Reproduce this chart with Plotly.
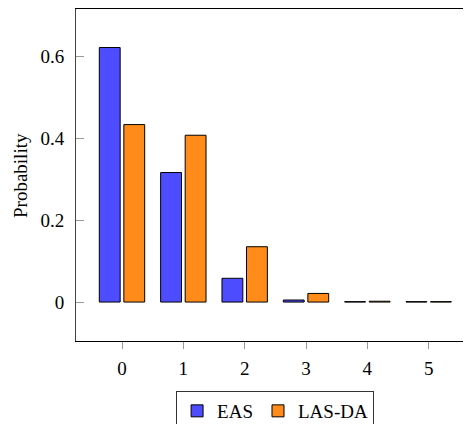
import plotly.graph_objects as go

categories = [0, 1, 2, 3, 4, 5]
eas = [0.621, 0.316, 0.058, 0.005, 0.001, 0.001]
lasda = [0.433, 0.407, 0.135, 0.021, 0.002, 0.001]
ytick_vals = [0, 0.2, 0.4, 0.6]
ytick_text = ["0", "0.2", "0.4", "0.6"]

FONT = "Liberation Serif"
FS = 19
TF = dict(family=FONT, size=FS, color="black")
fig = go.Figure()
fig.add_trace(go.Bar(x=categories, y=eas, name="EAS",
                     marker=dict(color="rgb(77,77,255)", line=dict(color="black", width=1))))
fig.add_trace(go.Bar(x=categories, y=lasda, name="LAS-DA",
                     marker=dict(color="rgb(255,140,26)", line=dict(color="black", width=1))))
fig.add_trace(go.Scatter(x=[0], y=[0], yaxis="y2", mode="markers",
                         marker=dict(opacity=0), showlegend=False, hoverinfo="skip"))

# page body has an 8px margin, so the figure is offset by 8px
fig.update_layout(
    template="none",
    width=463, height=416,
    margin=dict(l=68, r=0, t=1, b=83, autoexpand=False),
    paper_bgcolor="white", plot_bgcolor="white",
    barmode="group", bargap=0.2, bargroupgap=0.15,
    font=dict(family=FONT, size=FS, color="black"),
    xaxis=dict(range=[-0.75, 5.69], tickvals=categories, ticks="outside", ticklen=7,
               tickcolor="#999", tickfont=TF, showline=True, linecolor="black", linewidth=1,
               mirror="allticks", showgrid=False, zeroline=False, ticklabelstandoff=3,
               automargin=False),
    yaxis=dict(range=[-0.095, 0.715], tickvals=ytick_vals, ticktext=ytick_text,
               ticks="inside", ticklen=8, tickcolor="#999", tickfont=TF, showline=True,
               linecolor="#444", linewidth=1, showgrid=False, zeroline=False,
               ticklabelstandoff=7, automargin=False),
    yaxis2=dict(range=[-0.095, 0.715], overlaying="y", side="right", tickvals=ytick_vals,
                ticks="inside", ticklen=8, tickcolor="#999", showticklabels=False,
                showline=False, showgrid=False, zeroline=False, automargin=False),
    showlegend=True,
    legend=dict(orientation="h", x=0.504, xanchor="center", y=-0.1506, yanchor="top",
                bordercolor="#333", borderwidth=1, font=dict(family=FONT, size=FS),
                itemwidth=30, tracegroupgap=0),
    annotations=[dict(text="Probability", xref="paper", yref="paper", x=-0.1418, y=0.5,
                      textangle=-90, showarrow=False, font=dict(family=FONT, size=FS),
                      xanchor="center", yanchor="middle")],
)
fig.write_html("out.html")
